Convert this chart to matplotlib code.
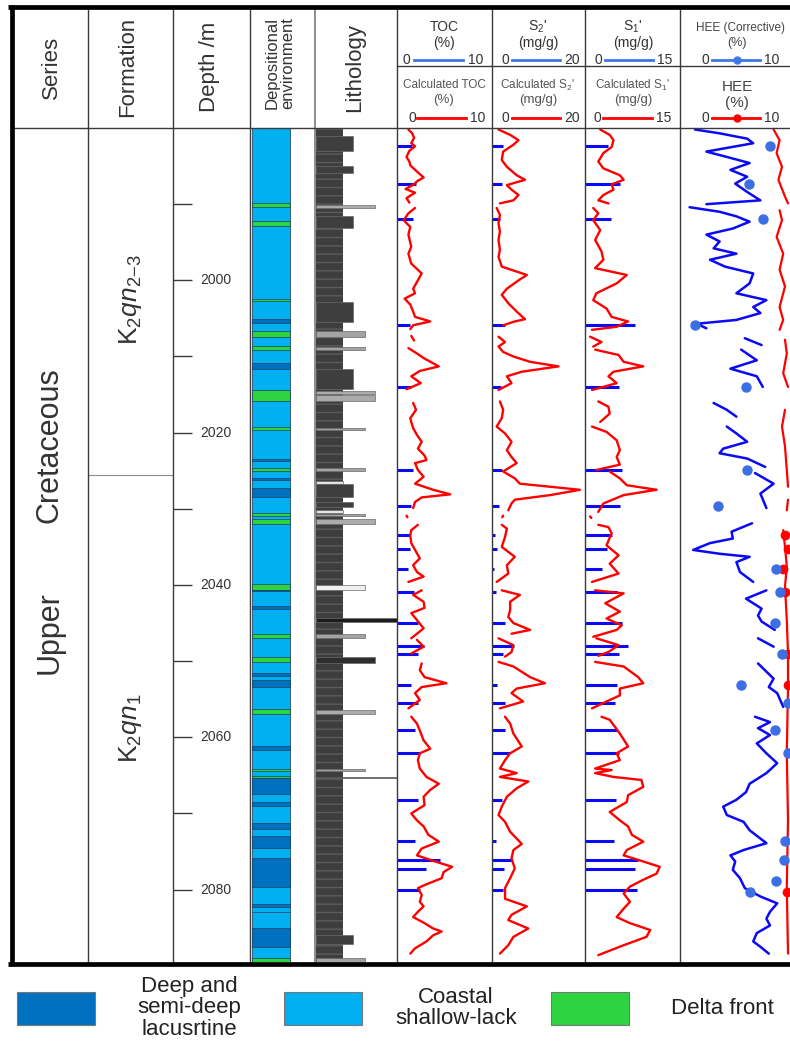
import numpy as np
import matplotlib.pyplot as plt
from matplotlib.patches import Rectangle

plt.rcParams['font.family'] = ['Liberation Sans', 'DejaVu Sans']
plt.rcParams['mathtext.fontset'] = 'custom'
plt.rcParams['mathtext.rm'] = 'Liberation Sans'
plt.rcParams['mathtext.it'] = 'Liberation Sans:italic'
plt.rcParams['mathtext.bf'] = 'Liberation Sans:bold'

nan = np.nan

# ---------------- data ----------------
top_depth, base_depth = 1980.0, 2089.5
depth_major = [2000, 2020, 2040, 2060, 2080]
depth_minor = [1990, 2010, 2030, 2050, 2070]

series_names = ['Upper', 'Cretaceous']
formation_names = [r'K$_2$$qn_{2\mathrm{-}3}$', r'K$_2$$qn_1$']
formation_top = [1980.0, 2025.5]
formation_base = [2025.5, 2089.5]

# depositional environment, background = coastal shallow lake
env_top = [1989.9, 1992.2, 2002.4, 2005.1, 2006.7, 2008.6, 2010.9, 2014.4, 2019.2, 2023.4,
           2024.6, 2025.9, 2027.3, 2030.6, 2031.3, 2039.9, 2040.6, 2042.8, 2046.4, 2049.5,
           2051.6, 2052.5, 2056.3, 2061.2, 2064.1, 2065.1, 2065.3, 2068.5, 2071.3, 2073.0,
           2075.8, 2081.9, 2082.9, 2085.0, 2089.0]
env_base = [1990.4, 1992.9, 2002.7, 2005.6, 2007.4, 2009.1, 2011.6, 2015.8, 2019.6, 2023.7,
            2025.0, 2026.2, 2028.5, 2030.9, 2032.0, 2040.6, 2040.8, 2043.1, 2046.9, 2050.1,
            2051.9, 2053.4, 2056.9, 2061.6, 2064.4, 2065.3, 2067.5, 2069.0, 2072.0, 2074.5,
            2079.7, 2082.3, 2083.0, 2087.5, 2089.5]
env_kind = ['delta', 'delta', 'delta', 'deep', 'delta', 'delta', 'deep', 'delta', 'delta', 'deep',
            'delta', 'deep', 'deep', 'delta', 'delta', 'delta', 'deep', 'deep', 'delta', 'delta',
            'deep', 'deep', 'delta', 'deep', 'delta', 'delta', 'deep', 'deep', 'deep', 'deep',
            'deep', 'deep', 'deep', 'deep', 'delta']
env_labels = ['Deep and\nsemi-deep\nlacusrtine', 'Coastal\nshallow-lack', 'Delta front']

# lithology, background = mudstone
lith_top = [1981.1, 1985.0, 1990.1, 1991.6, 2002.9, 2006.7, 2008.8, 2011.7, 2014.5, 2015.1,
            2019.4, 2024.7, 2026.4, 2026.8, 2029.1, 2030.2, 2030.7, 2031.3, 2040.0, 2044.3,
            2046.5, 2049.5, 2056.4, 2064.2, 2065.2, 2086.0, 2089.0]
lith_base = [1983.0, 1985.9, 1990.5, 1993.1, 2005.5, 2007.5, 2009.2, 2014.3, 2014.9, 2015.8,
             2019.7, 2025.0, 2026.7, 2028.5, 2029.8, 2030.6, 2030.9, 2032.0, 2040.6, 2044.8,
             2046.9, 2050.2, 2057.0, 2064.4, 2065.4, 2087.2, 2089.5]
lith_kind = ['shelly', 'shelly', 'silt', 'shelly', 'shelly', 'silty', 'silty', 'shelly', 'silt', 'silt',
             'silty', 'silty', 'marl', 'shelly', 'shelly', 'marl', 'silty', 'silt', 'calc', 'dolo',
             'silty', 'shale', 'silt', 'silty', 'dolo', 'shelly', 'silty']

# measured samples
sample_depth = [1982.4, 1987.4, 1991.9, 2005.9, 2014.0, 2024.9, 2029.6, 2033.4, 2035.3, 2037.9,
                2040.9, 2045.0, 2048.0, 2049.0, 2053.1, 2055.5, 2059.1, 2062.1, 2068.2, 2073.6,
                2076.1, 2077.3, 2080.1]
toc_meas = [1.6, 2.0, 1.7, 1.4, 1.5, 1.7, 1.5, 1.4, 1.4, 1.2, 1.8, 2.2, 2.8, 2.2, 1.5, 2.2,
            1.9, 2.4, 2.2, 1.9, 4.5, 3.1, 2.4]
s2_meas = [2.3, 2.1, 1.7, 2.8, 1.9, 2.1, 1.4, 0.6, 1.1, 0.4, 0.9, 2.8, 4.7, 2.4, 1.1, 2.8,
           2.8, 3.9, 2.1, 0.9, 4.2, 2.6, 2.4]
s1_meas = [3.7, 5.5, 4.1, 7.9, 5.3, 5.9, 5.5, 4.2, 3.4, 2.7, 5.0, 5.8, 6.8, 5.3, 5.0, 4.7,
           5.0, 5.3, 4.9, 4.6, 8.4, 7.9, 8.2]

# calculated TOC
toc_depth = [1980.2, 1980.7, 1981.3, 1982.0, 1982.4, 1983.0, 1983.8, 1984.4, 1984.9, 1985.6,
             1986.5, 1987.0, 1987.4, 1988.0, 1988.5, 1989.2, 1989.8, nan,
             1990.5, 1991.2, 1992.1, 1993.0, 1994.0, 1995.6, 1996.5, 1997.8, 1999.1, 2000.0,
             2001.1, 2001.7, 2002.4, 2003.2, 2004.1, 2004.8, 2005.4, 2005.9, 2006.4, nan,
             2007.3, 2007.9, nan,
             2008.9, 2009.6, 2010.2, 2011.3, 2011.9, 2012.6, 2013.5, 2014.3, nan,
             2016.1, 2017.0, 2018.1, 2018.6, 2019.4, 2020.3, 2021.2, 2022.1, 2023.0, 2023.6,
             2024.0, 2024.9, 2025.8, 2026.7, 2027.5, 2028.1, 2028.5, 2029.1, 2029.9, nan,
             2030.9, 2031.1, nan,
             2032.1, 2032.8, 2033.5, 2034.5, 2035.4, 2036.5, 2037.4, 2038.3, 2038.9, 2039.6, nan,
             2040.7, 2041.3, 2042.2, 2043.0, 2043.7, 2044.6, 2045.7, 2046.4, 2047.0, nan,
             2047.2, 2048.1, 2049.0, nan,
             2050.3, 2051.2, 2052.1, 2052.9, 2053.4, 2054.2, 2055.1, 2056.2, nan,
             2057.3, 2058.2, 2059.1, 2060.4, 2061.5, 2062.1, 2063.0, 2064.1, 2065.2, 2066.1,
             2066.9, 2067.8, 2068.9, 2070.0, 2070.9, 2071.7, 2072.8, 2073.7, 2074.6, 2075.5,
             2076.3, 2077.0, 2077.7, 2078.5, 2079.4, 2079.8, 2080.7, 2081.6, 2082.2, 2082.9,
             2083.6, 2084.4, 2085.1, 2085.5, 2086.0, 2086.8, 2087.7, 2088.4]
toc_calc = [1.2, 1.6, 1.8, 1.5, 1.9, 1.3, 1.0, 1.3, 1.4, 2.0,
            2.8, 2.1, 1.8, 0.9, 1.9, 1.0, 1.3, nan,
            1.9, 1.2, 0.7, 1.4, 1.2, 1.5, 1.2, 1.5, 2.6, 2.2,
            1.7, 1.9, 0.8, 1.4, 1.7, 1.9, 3.5, 1.7, 1.4, nan,
            1.5, 1.8, nan,
            1.2, 2.1, 2.8, 4.4, 2.4, 1.5, 2.5, 1.0, nan,
            1.7, 2.0, 1.4, 1.5, 1.7, 2.1, 2.6, 2.2, 2.9, 3.1,
            1.9, 2.2, 2.8, 1.9, 3.8, 5.6, 2.6, 1.9, 1.7, nan,
            1.0, 1.1, nan,
            2.2, 1.5, 1.4, 1.5, 1.9, 2.4, 1.7, 2.1, 2.8, 1.2, nan,
            2.6, 1.7, 2.8, 2.9, 1.5, 2.1, 2.8, 2.1, 1.5, nan,
            2.1, 2.8, 1.5, nan,
            2.6, 2.4, 2.9, 5.2, 2.6, 1.9, 2.4, 1.2, nan,
            1.5, 2.1, 2.4, 2.8, 3.5, 2.4, 2.2, 2.4, 3.1, 4.4,
            3.5, 2.8, 2.9, 1.5, 2.1, 2.8, 3.3, 4.4, 2.6, 2.1,
            4.0, 5.8, 4.9, 4.7, 2.9, 2.2, 2.6, 2.4, 2.8, 2.2,
            1.7, 2.9, 3.8, 4.7, 3.8, 3.1, 1.9, 1.4]

# calculated S2'
s2_depth = [1980.2, 1980.9, 1981.6, 1982.2, 1983.1, 1984.2, 1985.1, 1986.2, 1986.8, 1987.5,
            1988.1, 1988.8, 1989.5, 1989.9, nan,
            1990.5, 1991.4, 1992.5, 1993.6, 1994.7, 1996.0, 1996.9, 1998.2, 1999.3, 2000.0,
            2001.1, 2001.9, 2003.0, 2004.1, 2005.1, 2005.4, 2005.9, nan,
            2007.4, 2008.1, 2008.7, 2009.4, 2010.0, 2010.7, 2011.3, 2012.0, 2012.6, 2013.5, 2014.4, nan,
            2015.9, 2017.0, 2018.1, 2019.2, 2020.1, 2021.2, 2022.3, 2023.2, 2024.0, 2025.1,
            2026.0, 2026.7, 2027.5, 2028.2, 2028.8, 2029.3, 2030.2, nan,
            2030.9, 2031.1, nan,
            2032.1, 2032.6, 2033.7, 2035.0, 2036.3, 2037.4, 2038.5, 2039.6, nan,
            2040.7, 2041.3, 2042.2, 2043.3, 2044.2, 2045.0, 2045.9, 2046.4, nan,
            2047.0, 2047.9, 2048.8, 2049.4, nan,
            2050.1, 2050.7, 2052.1, 2052.9, 2053.6, 2054.2, 2055.3, 2056.2, nan,
            2057.3, 2058.2, 2059.5, 2061.2, 2062.1, 2063.0, 2064.1, 2064.7, 2065.2, 2065.8,
            2066.7, 2067.8, 2069.1, 2070.2, 2071.1, 2072.4, 2074.0, 2074.8, 2075.9, 2077.2,
            2078.5, 2079.8, 2081.2, 2082.2, 2083.3, 2084.0, 2085.1, 2086.2, 2087.3, 2088.4]
s2_calc = [1.4, 3.9, 5.7, 4.6, 2.4, 2.1, 3.2, 5.3, 7.1, 3.2,
           4.2, 5.7, 4.6, 1.7, nan,
           1.0, 1.7, 1.4, 1.7, 1.4, 1.7, 1.4, 2.1, 7.5, 5.7,
           3.2, 2.1, 3.5, 5.3, 7.1, 4.9, 2.4, nan,
           1.4, 2.8, 1.4, 2.4, 4.6, 8.2, 14.3, 6.4, 3.2, 4.2, 1.4, nan,
           1.7, 2.4, 2.1, 1.0, 2.8, 4.2, 3.2, 4.2, 5.3, 2.4,
           4.9, 6.0, 18.9, 12.5, 4.9, 4.2, 3.5, nan,
           2.4, 2.2, nan,
           2.1, 3.2, 2.8, 2.1, 4.9, 3.2, 3.5, 1.0, nan,
           2.1, 6.0, 3.9, 3.9, 3.5, 4.6, 8.2, 4.2, nan,
           1.4, 4.6, 4.2, 2.8, nan,
           1.4, 4.6, 8.2, 11.4, 5.3, 4.2, 6.7, 1.7, nan,
           2.8, 3.9, 4.6, 6.4, 3.9, 2.8, 1.7, 5.3, 1.7, 7.8,
           5.3, 3.2, 2.1, 1.4, 2.8, 3.9, 6.4, 4.6, 4.2, 4.9,
           3.9, 2.8, 2.8, 7.5, 4.2, 3.5, 7.8, 4.6, 3.5, 1.7]

# calculated S1'
s1_depth = [1980.2, 1980.9, 1981.6, 1982.5, 1983.3, 1984.4, 1985.3, 1986.2, 1986.8, 1987.4,
            1988.1, 1988.8, 1989.5, 1989.9, nan,
            1990.5, 1991.2, 1992.1, 1993.4, 1994.7, 1996.2, 1997.3, 1998.4, 1999.3, 2000.4,
            2001.7, 2002.6, 2003.7, 2004.8, 2005.4, 2006.1, 2006.5, nan,
            2007.4, 2008.1, 2008.7, nan,
            2009.1, 2009.8, 2010.7, 2011.3, 2012.0, 2012.6, 2013.5, 2014.4, nan,
            2015.9, 2016.6, 2017.5, 2018.6, nan,
            2019.2, 2019.9, 2021.0, 2022.3, 2023.2, 2024.2, 2024.9, nan,
            2025.1, 2026.0, 2026.9, 2027.5, 2028.2, 2029.3, 2030.4, nan,
            2031.0, 2031.2, nan,
            2032.1, 2032.4, 2033.2, 2034.8, 2036.1, 2037.2, 2038.5, 2039.6, nan,
            2040.7, 2041.1, 2042.4, 2043.5, 2044.4, 2045.3, 2045.9, 2046.8, nan,
            2047.0, 2047.9, 2048.8, 2049.3, nan,
            2050.1, 2050.7, 2052.1, 2052.9, 2053.6, 2054.5, 2055.3, 2056.2, nan,
            2057.3, 2057.7, 2059.5, 2061.2, 2062.1, 2063.0, 2064.1, 2064.3, 2064.7, 2065.2,
            2065.6, 2066.5, 2067.6, 2068.5, 2069.8, 2070.9, 2071.7, 2072.8, 2073.7, 2074.8,
            2075.5, 2076.3, 2077.0, 2077.9, 2078.7, 2079.6, 2080.5, 2081.6, 2082.5, 2083.6,
            2084.4, 2085.3, 2086.2, 2087.3, 2088.6]
s1_calc = [2.4, 3.9, 4.5, 4.2, 2.9, 2.1, 2.9, 5.5, 6.1, 4.2,
           4.5, 2.9, 2.1, 3.7, nan,
           1.3, 2.1, 1.3, 2.4, 1.6, 2.6, 2.9, 1.6, 6.6, 5.0,
           1.8, 1.3, 3.4, 4.2, 6.8, 5.0, 1.1, nan,
           0.8, 2.6, 1.3, nan,
           1.6, 5.3, 6.1, 9.2, 4.5, 3.7, 5.0, 1.1, nan,
           2.1, 3.7, 3.9, 2.4, nan,
           1.1, 3.4, 5.0, 5.5, 5.0, 5.5, 1.8, nan,
           3.9, 5.5, 6.6, 11.3, 6.1, 2.9, 2.1, nan,
           0.8, 1.0, nan,
           2.1, 3.7, 4.2, 3.4, 5.3, 3.9, 5.3, 1.1, nan,
           1.6, 6.1, 3.2, 5.5, 3.4, 5.8, 5.0, 1.3, nan,
           1.8, 5.3, 3.7, 2.1, nan,
           1.6, 6.1, 8.4, 9.2, 5.5, 5.5, 3.4, 1.1, nan,
           2.6, 3.9, 5.5, 6.8, 5.0, 5.5, 1.6, 4.2, 1.6, 4.5,
           8.9, 9.2, 6.8, 6.6, 3.9, 5.5, 6.8, 7.4, 9.2, 6.6,
           6.1, 9.2, 11.8, 11.3, 9.2, 7.1, 6.1, 7.1, 6.1, 5.0,
           7.1, 10.3, 9.7, 6.1, 2.1]

# HEE (corrective) curve
hee_depth = [1980.2, 1980.7, 1981.4, 1982.0, 1982.7, 1983.1, 1983.8, 1984.6, 1985.5, 1986.4,
             1987.3, 1988.4, 1989.5, 1990.0, nan,
             1990.4, 1991.0, 1991.6, 1992.3, 1993.2, 1994.0, 1994.9, 1995.8, 1996.5, 1997.3,
             1998.2, 1999.1, 2000.4, 2001.7, 2002.6, 2003.5, 2004.3, 2005.2, 2005.7, 2006.3, nan,
             2007.6, 2008.5, nan,
             2009.1, 2010.5, 2011.6, 2012.6, 2014.0, nan,
             2016.1, 2017.0, 2017.9, nan,
             2019.2, 2020.1, 2021.2, 2022.1, 2022.7, 2023.4, 2024.5, nan,
             2025.3, 2026.7, 2028.0, 2029.9, nan,
             2031.9, 2033.0, 2033.9, 2034.5, 2035.4, 2035.9, 2036.3, 2037.0, 2038.3, 2039.6, nan,
             2040.7, 2041.8, 2043.1, 2044.0, 2044.8, 2045.9, nan,
             2047.0, 2048.1, nan,
             2050.3, 2052.3, 2053.4, 2054.2, 2056.0, nan,
             2057.3, 2058.0, 2058.8, 2059.7, 2060.8, 2062.1, 2063.4, 2064.7, 2066.1, 2067.2,
             2068.2, 2069.1, 2070.2, 2071.1, 2072.2, 2073.9, 2074.8, 2075.5, 2076.3, 2077.4,
             2078.5, 2079.8, 2080.9, 2081.8, 2082.9, 2083.8, 2084.7, 2085.7, 2086.8, 2087.5, 2088.4]
hee = [1.25, 3.3, 5.6, 6.1, 3.6, 2.2, 3.9, 5.8, 4.2, 5.6,
       4.6, 5.6, 6.7, 2.2, nan,
       0.8, 3.3, 4.7, 5.8, 4.4, 2.2, 3.3, 2.8, 4.7, 2.5,
       3.75, 6.1, 5.8, 4.7, 7.2, 6.1, 6.7, 4.7, 1.4, 2.2, nan,
       5.4, 6.8, nan,
       5.1, 6.4, 4.2, 6.4, 6.9, nan,
       2.8, 3.9, 4.7, nan,
       3.9, 4.7, 5.6, 3.6, 3.3, 5.6, 7.1, nan,
       6.25, 7.8, 6.7, 7.2, nan,
       6.0, 4.3, 4.4, 2.5, 1.1, 3.3, 5.8, 4.7, 5.0, 6.1, nan,
       7.2, 5.5, 6.8, 6.5, 6.8, 7.9, nan,
       6.5, 7.8, nan,
       6.5, 7.8, 7.4, 8.1, 8.6, nan,
       6.25, 7.5, 6.5, 7.5, 6.4, 7.2, 8.1, 7.2, 5.8, 5.5,
       4.7, 3.6, 3.9, 5.3, 5.8, 7.2, 5.3, 4.2, 4.6, 4.4,
       5.0, 5.4, 6.7, 8.1, 7.5, 7.2, 7.5, 6.4, 6.1, 6.7, 7.4]
hee_pt_depth = [1982.4, 1987.4, 1991.9, 2005.9, 2014.0, 2024.9, 2029.6, 2037.9, 2040.9, 2045.0,
                2049.0, 2053.1, 2055.5, 2059.1, 2062.1, 2073.6, 2076.1, 2078.9, 2080.3]
hee_pt = [7.5, 5.75, 6.9, 1.25, 5.5, 5.6, 3.2, 8.0, 8.3, 7.9,
          8.5, 5.1, 9.0, 7.9, 9.0, 8.75, 8.7, 8.0, 5.8]

# HEE (calculated) curve and points
hee2_depth = [1980.2, 1981.6, 1983.3, 1985.1, 1986.8, 1989.0, 1989.9, nan,
              1990.8, 1992.1, 1994.3, 1996.5, 1998.6, 2000.8, 2003.5, 2005.2, 2006.5, nan,
              2007.8, 2009.6, 2012.2, 2014.0, nan,
              2017.0, 2019.2, 2021.8, 2024.9, 2027.1, nan,
              2028.8, 2030.2, nan,
              2032.8, 2035.0, 2037.6, 2040.2, 2044.6, 2049.0, 2053.4, 2057.7, 2062.1, 2066.5,
              2070.9, 2075.2, 2079.6, 2084.0, 2088.4]
hee2 = [7.8, 8.3, 8.05, 8.5, 8.2, 8.75, 9.0, nan,
        8.3, 8.5, 8.05, 8.6, 8.3, 8.75, 8.3, 8.6, 8.3, nan,
        8.75, 8.9, 8.6, 9.0, nan,
        8.75, 8.5, 8.75, 8.9, 9.0, nan,
        9.0, 8.9, nan,
        8.6, 8.75, 8.9, 8.75, 8.9, 9.0, 9.0, 8.95, 8.9, 8.95,
        9.0, 8.95, 8.9, 8.95, 9.0]
hee2_pt_depth = [2033.4, 2035.3, 2037.9, 2040.9, 2049.0, 2053.1, 2080.3]
hee2_pt = [8.75, 9.0, 8.6, 8.75, 9.0, 9.0, 8.9]

# ---------------- styles ----------------
env_color = {'deep': '#0070C0', 'shallow': '#00B0F0', 'delta': '#2DD43F'}
lith_style = {'mud': ('#3e3e3e', 28), 'shelly': ('#3e3e3e', 38), 'silty': ('#a3a3a3', 50),
              'silt': ('#ababab', 60), 'calc': ('#f0f0f0', 50), 'dolo': ('#1c1c1c', 82),
              'shale': ('#2e2e2e', 60), 'marl': ('#e4e4e4', 28)}
RED = '#FF0000'
BLUE = '#0A0AF5'
DOT_BLUE = '#3B6FE3'
HDR_BLUE = '#3C78E6'
TXT = '#333333'
GRID = '#3a3a3a'

W, H = 790, 1041
fig = plt.figure(figsize=(W / 100, H / 100), dpi=100)


def track(x0, x1, y0=128, y1=962):
    ax = fig.add_axes([x0 / W, 1 - y1 / H, (x1 - x0) / W, (y1 - y0) / H])
    ax.set_ylim(base_depth, top_depth)
    ax.set_axis_off()
    return ax


# depth column
ax_d = track(173, 250)
ax_d.set_xlim(0, 77)
ax_d.hlines(depth_major + depth_minor, 0, 19, color=GRID, lw=1.0)
for d in depth_major:
    ax_d.text(27, d, str(d), ha='left', va='center', fontsize=10, color=TXT)

# formation column
ax_f = track(88, 173)
ax_f.set_xlim(0, 85)
ax_f.hlines(formation_base[0], 0, 85, color='#8a8a8a', lw=0.8)

# depositional environment
ax_e = track(250, 315)
ax_e.set_xlim(0, 65)
ax_e.add_patch(Rectangle((2, top_depth), 38, base_depth - top_depth,
                         fc=env_color['shallow'], ec='#2a4f6e', lw=0.6))
for t, b, k in zip(env_top, env_base, env_kind):
    ax_e.add_patch(Rectangle((2, t), 38, b - t, fc=env_color[k], ec='#1d3f5c', lw=0.5))

# lithology
ax_l = track(315, 397)
ax_l.set_xlim(0, 82)
ax_l.add_patch(Rectangle((1, top_depth), lith_style['mud'][1] - 1, base_depth - top_depth,
                         fc=lith_style['mud'][0], ec='#5c5c5c', lw=0, hatch='--'))
for t, b, k in zip(lith_top, lith_base, lith_kind):
    c, w = lith_style[k]
    ax_l.add_patch(Rectangle((1, t), w - 1, b - t, fc=c, ec='#6a6a6a', lw=0.5))

# TOC, S2, S1 tracks
for (x0, x1, vmax, meas, cd, cv) in [(397, 492, 10, toc_meas, toc_depth, toc_calc),
                                     (492, 585, 20, s2_meas, s2_depth, s2_calc),
                                     (585, 680, 15, s1_meas, s1_depth, s1_calc)]:
    ax = track(x0, x1)
    ax.set_xlim(0, vmax)
    ax.hlines(sample_depth, 0, meas, color=BLUE, lw=2.2)
    ax.plot(cv, cd, color=RED, lw=1.7, solid_capstyle='round', solid_joinstyle='round')

# HEE track (runs past right edge)
ax_h = track(680, 800)
ax_h.set_xlim(0, 10)
ax_h.plot(hee, hee_depth, color=BLUE, lw=1.8, solid_capstyle='round', solid_joinstyle='round')
ax_h.plot(hee2, hee2_depth, color=RED, lw=1.6, solid_capstyle='round')
ax_h.plot(hee2_pt, hee2_pt_depth, 'o', color=RED, ms=6)
ax_h.plot(hee_pt, hee_pt_depth, 'o', color=DOT_BLUE, ms=6.5)

# ---------------- frame and header ----------------
fr = fig.add_axes([0, 0, 1, 1], zorder=10)
fr.set_xlim(0, W)
fr.set_ylim(H, 0)
fr.set_axis_off()

for x in [88, 173, 250, 397, 492, 585, 680]:
    fr.plot([x, x], [9, 962], color=GRID, lw=1.0)
fr.plot([315, 315], [9, 962], color='#8c8c8c', lw=1.4)
fr.plot([11, W], [128, 128], color=GRID, lw=1.0)
fr.plot([397, W], [66, 66], color=GRID, lw=1.0)
fr.plot([8, W], [7, 7], color='black', lw=3.4, solid_capstyle='butt')
fr.plot([11.5, 11.5], [5, 966], color='black', lw=3.4, solid_capstyle='butt')
fr.plot([8, W], [964, 964], color='black', lw=3.4, solid_capstyle='butt')

for txt, x in [('Series', 51), ('Formation', 128), ('Depth /m', 209), ('Lithology', 355)]:
    fr.text(x, 67, txt, rotation=90, ha='center', va='center', fontsize=16, color=TXT)
fr.text(280, 63, 'Depositional\nenvironment', rotation=90, ha='center', va='center',
        fontsize=12, color=TXT, linespacing=1.0)

fr.text(50, 633, series_names[0], rotation=90, ha='center', va='center', fontsize=22, color=TXT)
fr.text(50, 445, series_names[1], rotation=90, ha='center', va='center', fontsize=22, color=TXT)
for name, yc in zip(formation_names, [300, 728]):
    fr.text(131, yc, name, rotation=90, ha='center', va='center', fontsize=19, color=TXT)

hdr1 = [('TOC', '(%)', 444, '0', 406.5, 414, 463, '10', 476),
        (r"S$_2$'", '(mg/g)', 538, '0', 505, 512, 560, '20', 572),
        (r"S$_1$'", '(mg/g)', 633, '0', 598.5, 605, 653, '15', 665)]
for t1, t2, xc, a, xa, l0, l1, b, xb in hdr1:
    fr.text(xc, 27, t1, ha='center', va='center', fontsize=10, color=TXT)
    fr.text(xc, 43, t2, ha='center', va='center', fontsize=10, color=TXT)
    fr.plot([l0, l1], [60, 60], color=HDR_BLUE, lw=2)
    fr.text(xa, 60, a, ha='center', va='center', fontsize=10, color=TXT)
    fr.text(xb, 60, b, ha='center', va='center', fontsize=10, color=TXT)

hdr2 = [('Calculated TOC', '(%)', 444, '0', 412, 417, 466, '10', 478),
        (r"Calculated S$_2$'", '(mg/g)', 538, '0', 505, 512, 560, '20', 572),
        (r"Calculated S$_1$'", '(mg/g)', 633, '0', 597, 603, 652, '15', 664)]
for t1, t2, xc, a, xa, l0, l1, b, xb in hdr2:
    fr.text(xc, 85, t1, ha='center', va='center', fontsize=8.5, color='#555555')
    fr.text(xc, 100, t2, ha='center', va='center', fontsize=9.5, color='#555555')
    fr.plot([l0, l1], [118, 118], color=RED, lw=2)
    fr.text(xa, 118, a, ha='center', va='center', fontsize=10, color=TXT)
    fr.text(xb, 118, b, ha='center', va='center', fontsize=10, color=TXT)

fr.text(740, 28, 'HEE (Corrective)', ha='center', va='center', fontsize=8.5, color='#444444')
fr.text(737, 43, '(%)', ha='center', va='center', fontsize=9, color='#444444')
fr.plot([712, 760], [60, 60], color=HDR_BLUE, lw=2)
fr.plot([737], [60], 'o', color=HDR_BLUE, ms=5)
fr.text(705, 60, '0', ha='center', va='center', fontsize=10, color=TXT)
fr.text(772, 60, '10', ha='center', va='center', fontsize=10, color=TXT)
fr.text(737, 87, 'HEE', ha='center', va='center', fontsize=11, color='#444444')
fr.text(737, 103, '(%)', ha='center', va='center', fontsize=11, color='#444444')
fr.plot([712, 760], [118, 118], color=RED, lw=2)
fr.plot([737], [118], 'o', color=RED, ms=5)
fr.text(705, 118, '0', ha='center', va='center', fontsize=10, color=TXT)
fr.text(772, 118, '10', ha='center', va='center', fontsize=10, color=TXT)

# legend
for kind, label, xr, xt in [('deep', env_labels[0], 17, 189),
                            ('shallow', env_labels[1], 284, 456),
                            ('delta', env_labels[2], 551, 722)]:
    fr.add_patch(Rectangle((xr, 992), 78, 33, fc=env_color[kind], ec='#777777', lw=0.8))
    fr.text(xt, 1008, label, ha='center', va='center', fontsize=16, color='#222222',
            linespacing=1.03)

fig.savefig('out.png', dpi=100)
